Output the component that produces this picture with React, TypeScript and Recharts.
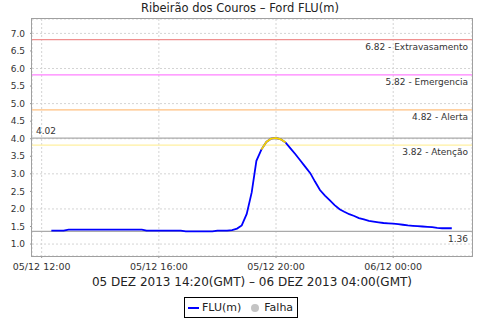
import React from "react";
import {
  LineChart,
  Line,
  XAxis,
  YAxis,
  CartesianGrid,
  ReferenceLine,
} from "recharts";

// hours counted from 05/12 12:00 (local)
const hours = [
  0.33, 0.75, 0.92, 3.42, 3.58, 4.75, 4.92, 5.83, 6.0, 6.33,
  6.5, 6.67, 6.83, 7.0, 7.17, 7.33, 7.5, 7.67, 7.83, 8.0,
  8.17, 8.33, 8.5, 8.67, 8.83, 9.0, 9.17, 9.33, 9.5, 9.67,
  9.83, 10.0, 10.17, 10.33, 10.5, 10.67, 10.83, 11.0, 11.17, 11.33,
  11.5, 11.67, 11.83, 12.0, 12.17, 12.33, 12.5, 12.67, 12.83, 13.0,
  13.17, 13.33, 13.5, 13.67, 13.83, 14.0,
];
const flu = [
  1.38, 1.38, 1.41, 1.41, 1.38, 1.38, 1.36, 1.36, 1.38, 1.38,
  1.40, 1.44, 1.53, 1.86, 2.47, 3.37, 3.69, 3.91, 4.0, 4.02,
  3.98, 3.89, 3.72, 3.55, 3.38, 3.2, 3.02, 2.78, 2.54, 2.38,
  2.25, 2.11, 1.99, 1.92, 1.85, 1.8, 1.74, 1.7, 1.66, 1.64,
  1.62, 1.6, 1.59, 1.58, 1.57, 1.55, 1.53, 1.52, 1.51, 1.5,
  1.49, 1.48, 1.46, 1.45, 1.45, 1.45,
];
// stretch of the line drawn in yellow (above the "Atenção" level)
const atencaoStart = 7.5;
const atencaoEnd = 8.33;

const limitValues = [6.82, 5.82, 4.82, 3.82];
const limitNames = ["Extravasamento", "Emergencia", "Alerta", "Atenção"];
const maxValue = 4.02;
const minValue = 1.36;

const xTicks = [0, 4, 8, 12];
const xTickLabels = ["05/12 12:00", "05/12 16:00", "05/12 20:00", "06/12 00:00"];
const yTicks = [1.0, 1.5, 2.0, 2.5, 3.0, 3.5, 4.0, 4.5, 5.0, 5.5, 6.0, 6.5, 7.0];

const title = "Ribeirão dos Couros – Ford FLU(m)";
const periodLabel = "05 DEZ 2013 14:20(GMT) – 06 DEZ 2013 04:00(GMT)";

const limitColors = ["#F09090", "#FF80FF", "#FFC080", "#FFF0A0"];

const data = hours.map((h, i) => ({
  t: h,
  flu: flu[i],
  alerta: h >= atencaoStart && h <= atencaoEnd ? flu[i] : null,
}));

export default function App() {
  return (
    <div
      style={{
        position: "absolute",
        left: 0,
        top: 0,
        width: 480,
        height: 320,
        background: "#fff",
        fontFamily: "'DejaVu Sans', sans-serif",
        color: "#333",
      }}
    >
      <div
        style={{
          position: "absolute",
          left: 0,
          top: 0,
          width: 480,
          textAlign: "center",
          fontSize: 11.5,
          lineHeight: "16px",
          color: "#222",
        }}
      >
        {title}
      </div>

      <LineChart
        width={480}
        height={320}
        data={data}
        margin={{ top: 19, right: 8, bottom: 0, left: 0 }}
      >
        <CartesianGrid stroke="#D4D4D4" strokeDasharray="2 2" />
        <XAxis
          dataKey="t"
          type="number"
          domain={[-0.33, 14.69]}
          ticks={xTicks}
          tickFormatter={(v: number) => xTickLabels[xTicks.indexOf(v)]}
          height={64}
          tickSize={2}
          tickMargin={5}
          axisLine={false}
          tickLine={{ stroke: "#999" }}
          tick={{ fontSize: 9.5, fill: "#333" }}
          allowDataOverflow
          label={{
            value: periodLabel,
            position: "insideTop",
            offset: 21,
            fontSize: 12,
            fill: "#222",
          }}
        />
        <YAxis
          type="number"
          domain={[0.66, 7.41]}
          ticks={yTicks}
          tickFormatter={(v: number) => v.toFixed(1)}
          width={32}
          tickSize={2}
          tickMargin={5}
          axisLine={false}
          tickLine={{ stroke: "#999" }}
          tick={{ fontSize: 9, fill: "#333" }}
          allowDataOverflow
        />
        {limitValues.map((v, i) => (
          <ReferenceLine
            key={limitNames[i]}
            y={v}
            stroke={limitColors[i]}
            strokeWidth={1.3}
            label={{
              value: `${v.toFixed(2)} - ${limitNames[i]}`,
              position: "insideTopRight",
              offset: 4,
              fontSize: 9,
              fill: "#333",
            }}
          />
        ))}
        <ReferenceLine
          y={maxValue}
          stroke="#AAAAAA"
          strokeWidth={1.2}
          label={{
            value: maxValue.toFixed(2),
            position: "insideBottomLeft",
            offset: 4,
            fontSize: 9,
            fill: "#333",
          }}
        />
        <ReferenceLine
          y={minValue}
          stroke="#AAAAAA"
          strokeWidth={1.2}
          label={{
            value: minValue.toFixed(2),
            position: "insideTopRight",
            offset: 4,
            fontSize: 9,
            fill: "#333",
          }}
        />
        <Line
          dataKey="flu"
          type="linear"
          stroke="#0000FF"
          strokeWidth={1.8}
          dot={false}
          isAnimationActive={false}
        />
        <Line
          dataKey="alerta"
          type="linear"
          stroke="#F5D300"
          strokeWidth={1.8}
          dot={false}
          connectNulls={false}
          isAnimationActive={false}
        />
      </LineChart>

      {/* plot frame */}
      <div
        style={{
          position: "absolute",
          left: 31,
          top: 18,
          width: 442,
          height: 239,
          boxSizing: "border-box",
          border: "1px solid #A0A0A0",
          pointerEvents: "none",
        }}
      />

      {/* legend */}
      <div
        style={{
          position: "absolute",
          left: 184,
          top: 297,
          width: 114,
          height: 21,
          boxSizing: "border-box",
          border: "1px solid #000",
          display: "flex",
          alignItems: "center",
          fontSize: 11,
          color: "#222",
          paddingLeft: 2,
        }}
      >
        <svg width={12} height={10} style={{ marginRight: 3 }}>
          <line x1={1} y1={5} x2={12} y2={5} stroke="#0000FF" strokeWidth={2} />
        </svg>
        <span>FLU(m)</span>
        <svg width={10} height={10} style={{ marginLeft: 9, marginRight: 4 }}>
          <circle cx={5} cy={5} r={4} fill="#C4C4C4" />
        </svg>
        <span>Falha</span>
      </div>
    </div>
  );
}
